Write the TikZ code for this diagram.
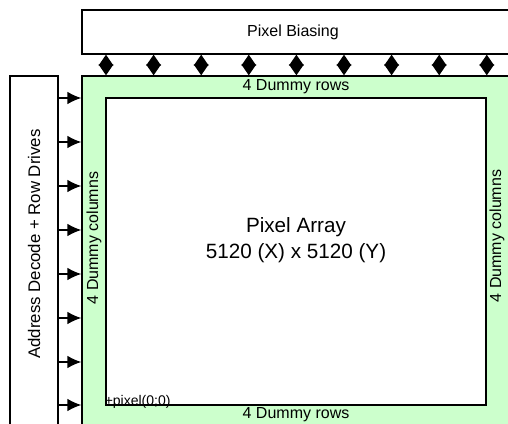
\documentclass[tikz,border=0pt]{standalone}
\usepackage{fontspec}
\setmainfont{Liberation Sans}
\usetikzlibrary{arrows.meta}

\definecolor{dummygreen}{RGB}{204,255,204}

\tikzset{
  blockbox/.style={draw=black, line width=1pt, fill=white, inner sep=0pt},
  labeltext/.style={font=\fontsize{12}{14}\selectfont, inner sep=0pt},
  rowarrow/.style={line width=1pt, -{Latex[length=10.5pt,width=9.5pt]}},
  biasarrow/.style={line width=1pt, {Triangle[length=8.2pt,width=11pt]}-{Triangle[length=8.2pt,width=11pt]}}
}

\begin{document}
\begin{tikzpicture}[x=0.75pt,y=-0.75pt]

  \useasboundingbox (0,0) rectangle (508,424);
  \clip (0,0) rectangle (508,424);

  % --- Blocks (run past the page edge) ---
  \node[blockbox, minimum width=328.5pt, minimum height=33pt] (bias) at (301,32) {};
  \node[labeltext] (biaslabel) at (293,32) {Pixel Biasing};

  \node[blockbox, minimum width=36pt, minimum height=273pt] (decoder) at (34,258) {};
  \node[labeltext, rotate=90, font=\fontsize{12.6}{14}\selectfont] (decoderlabel) at (34,244)
    {Address Decode + Row Drives};

  \node[blockbox, fill=dummygreen, minimum width=324pt, minimum height=265.5pt] (frame) at (298,253) {};
  \node[blockbox, minimum width=285pt, minimum height=230.25pt] (array) at (296,251.5) {};

  % --- Labels ---
  \node[labeltext] (toprows) at (296,87) {4 Dummy rows};
  \node[labeltext] (bottomrows) at (296,415) {4 Dummy rows};
  \node[labeltext, rotate=90] (leftcols) at (94,238) {4 Dummy columns};
  \node[labeltext, rotate=90] (rightcols) at (497,236) {4 Dummy columns};

  \node[font=\fontsize{15.5}{18}\selectfont, align=center, inner sep=0pt] (arraylabel) at (296,240)
    {Pixel Array\\[1pt] 5120 (X) x 5120 (Y)};

  \node[anchor=base west, inner sep=0pt, font=\fontsize{10.5}{12}\selectfont] (origin) at (104.5,406) {+pixel(0;0)};

  % --- Row drive arrows ---
  \foreach \y in {98,142,186,230,274,318,362,405}
    \draw[rowarrow] (decoder.east |- 0,\y) -- (frame.west |- 0,\y);

  % --- Bias connections ---
  \foreach \x in {106,153.6,201.2,248.8,296.4,344,391.6,439.2,486.8}
    \draw[biasarrow] (bias.south -| \x,0) -- (frame.north -| \x,0);

\end{tikzpicture}
\end{document}
